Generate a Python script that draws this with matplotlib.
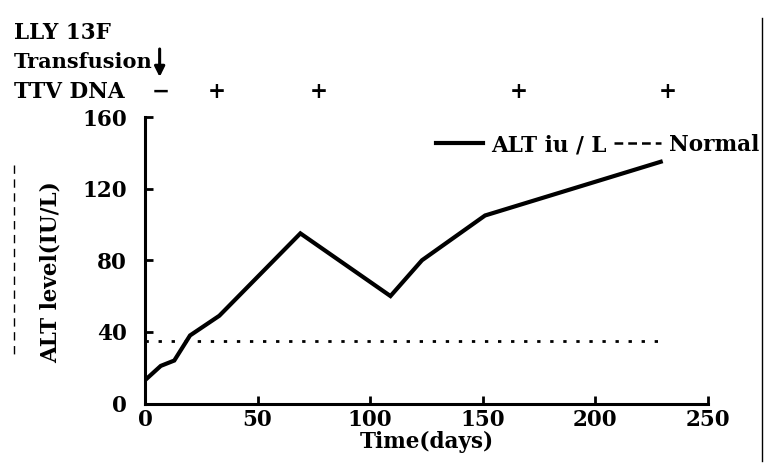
import matplotlib
matplotlib.use("Agg")
import matplotlib.pyplot as plt
from matplotlib.lines import Line2D
from matplotlib.transforms import blended_transform_factory

# ALT level over time
days = [0, 7, 13, 20, 33, 69, 109, 123, 151, 229]
alt = [13, 21, 24, 38, 49, 95, 60, 80, 105, 135]

# upper limit of normal
normal_days = [0, 228]
normal_alt = [35, 35]

# TTV DNA results above the plot
ttv_days = [7, 32, 77, 166, 232]
ttv_marks = ['\u2212', '+', '+', '+', '+']
transfusion_day = 6.5

plt.rcParams['font.family'] = 'DejaVu Serif'
plt.rcParams['font.weight'] = 'bold'
fs = 15.5

W, H = 779, 470
fig = plt.figure(figsize=(W / 100, H / 100), dpi=100)
ax = fig.add_axes([145 / W, 1 - 403.5 / H, (708 - 145) / W, (403.5 - 117) / H])

ax.plot(days, alt, color='black', lw=3, solid_joinstyle='miter', label='ALT iu/L')
ax.plot(normal_days, normal_alt, color='black', lw=2, linestyle=(0, (1.2, 3.5)),
        label='Normal')

ax.set_xlim(0, 250)
ax.set_ylim(0, 160)
ax.set_xticks([0, 50, 100, 150, 200, 250])
ax.set_yticks([0, 40, 80, 120, 160])
for s in ['top', 'right']:
    ax.spines[s].set_visible(False)
for s in ['left', 'bottom']:
    ax.spines[s].set_linewidth(2.2)
ax.tick_params(direction='in', length=6, width=2, labelsize=fs)
ax.tick_params(axis='y', pad=13)
ax.tick_params(axis='x', pad=4)
ax.set_xlabel('Time(days)', fontsize=fs, fontweight='bold', labelpad=0)
ax.set_ylabel('ALT level(IU/L)', fontsize=fs, fontweight='bold')
ax.yaxis.set_label_coords(-0.148, 0.46)

handles = [Line2D([], [], color='black', lw=3),
           Line2D([], [], color='black', lw=1.8, linestyle=(0, (3.5, 2)))]
leg = ax.legend(handles, ['ALT iu / L', 'Normal'], ncol=2, frameon=False,
                fontsize=fs, loc='center left', bbox_to_anchor=(425 / W, 1 - 145 / H),
                bbox_transform=fig.transFigure, handlelength=2.2,
                handletextpad=0.35, columnspacing=0.35, borderpad=0)

# header text
fig.text(14 / W, 1 - 33 / H, 'LLY 13F', fontsize=fs, fontweight='bold', va='center')
fig.text(14 / W, 1 - 62 / H, 'Transfusion', fontsize=fs - 0.5, fontweight='bold',
         va='center')
fig.text(14 / W, 1 - 92 / H, 'TTV DNA', fontsize=fs, fontweight='bold', va='center')
tr = blended_transform_factory(ax.transData, fig.transFigure)
for d, m in zip(ttv_days, ttv_marks):
    fig.text(d, 1 - 92 / H, m, transform=tr, fontsize=fs, fontweight='bold',
             ha='center', va='center')
ax.annotate('', xy=(transfusion_day, 1 - 77 / H), xycoords=tr,
            xytext=(transfusion_day, 1 - 49 / H), textcoords=tr,
            arrowprops=dict(arrowstyle='-|>,head_length=0.6,head_width=0.3',
                            color='black', lw=2.2, shrinkA=0, shrinkB=0))

# scan border lines
fig.add_artist(Line2D([762 / W, 762 / W], [1 - 18 / H, 1 - 461 / H], color='black', lw=1))
fig.add_artist(Line2D([14 / W, 14 / W], [1 - 165 / H, 1 - 357 / H], color='black',
                      lw=1, linestyle=(0, (6, 4))))

fig.savefig('out.png', dpi=100)
